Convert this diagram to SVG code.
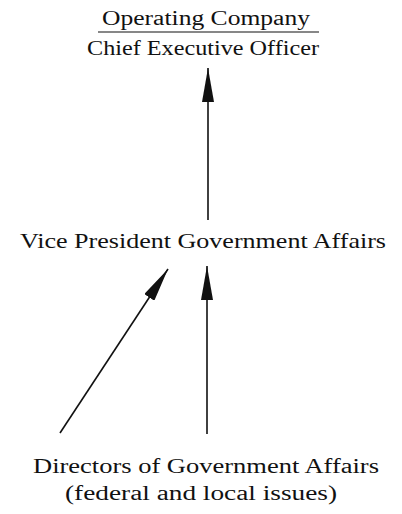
<svg xmlns="http://www.w3.org/2000/svg" width="402" height="514" viewBox="0 0 402 514">
<style>
text{font-family:"Liberation Serif","DejaVu Serif",serif;font-size:20px;fill:#111;text-anchor:middle}
.c{stroke:#111;stroke-width:1.6;fill:none}
</style>
<defs>
<marker id="ah" viewBox="0 0 34 12" refX="34" refY="6" markerWidth="34" markerHeight="12" markerUnits="userSpaceOnUse" orient="auto">
<path d="M0,6 L0,0 L34,6 L0,12 Z" fill="#111"/>
</marker>
</defs>
<rect width="402" height="514" fill="#fff"/>
<g id="ceo">
<text x="206" y="25" textLength="208" lengthAdjust="spacingAndGlyphs">Operating Company</text>
<line x1="98" y1="32" x2="319" y2="32" stroke="#111" stroke-width="1.2"/>
<text x="203" y="55" textLength="232" lengthAdjust="spacingAndGlyphs">Chief Executive Officer</text>
</g>
<g id="vp">
<text x="203" y="248" style="font-size:21px" textLength="366" lengthAdjust="spacingAndGlyphs">Vice President Government Affairs</text>
</g>
<g id="directors">
<text x="206" y="473" textLength="346" lengthAdjust="spacingAndGlyphs">Directors of Government Affairs</text>
<text x="201" y="500" textLength="272" lengthAdjust="spacingAndGlyphs">(federal and local issues)</text>
</g>
<g id="connectors">
<line class="c" x1="208" y1="220" x2="208" y2="68" marker-end="url(#ah)"/>
<line class="c" x1="60" y1="433" x2="168" y2="269" marker-end="url(#ah)"/>
<line class="c" x1="207" y1="434" x2="207" y2="266" marker-end="url(#ah)"/>
</g>
</svg>
